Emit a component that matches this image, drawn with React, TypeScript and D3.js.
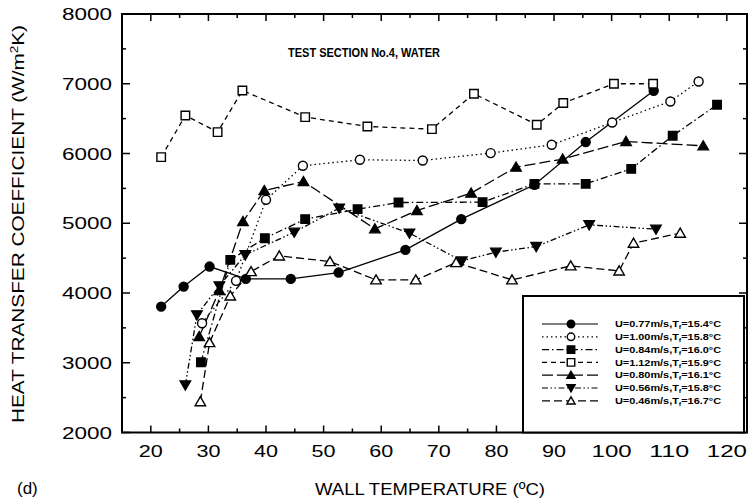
import React from "react";
import * as d3 from "d3";

// ---------- data ----------
const velocities = ["0.77", "1.00", "0.84", "1.12", "0.80", "0.56", "0.46"];
const fluidTemps = ["15.4", "15.8", "16.0", "15.9", "16.1", "15.8", "16.7"];

const s077: [number, number][] = [
  [21.8, 3805], [25.7, 4092], [30.2, 4379], [36.5, 4202], [44.3, 4202], [52.6, 4293],
  [64.2, 4618], [73.9, 5059], [86.6, 5551], [95.5, 6164], [107.3, 6900],
];
const s100: [number, number][] = [
  [28.9, 3567], [34.8, 4174], [40.0, 5336], [46.4, 5824], [56.3, 5910], [67.2, 5900],
  [79.0, 6006], [89.6, 6125], [100.1, 6445], [110.2, 6746], [115.1, 7033],
];
const s084: [number, number][] = [
  [28.7, 3007], [33.8, 4475], [39.8, 4786], [46.8, 5059], [55.9, 5202], [63.0, 5297],
  [77.6, 5303], [86.6, 5565], [95.5, 5565], [103.4, 5780], [110.6, 6254], [118.3, 6699],
];
const s112: [number, number][] = [
  [21.8, 5948], [26.0, 6545], [31.6, 6307], [35.9, 6904], [46.8, 6522], [57.6, 6387],
  [68.8, 6350], [76.1, 6857], [87.0, 6412], [91.6, 6723], [100.4, 7000], [107.2, 7000],
];
const s080: [number, number][] = [
  [28.4, 3375], [31.9, 4034], [36.0, 5024], [39.7, 5469], [46.5, 5598], [58.9, 4920],
  [66.2, 5182], [75.6, 5432], [83.4, 5805], [91.5, 5920], [102.5, 6172], [115.9, 6110],
];
const s056: [number, number][] = [
  [26.0, 2681], [28.0, 3686], [31.9, 4102], [36.4, 4547], [44.9, 4872], [52.7, 5217],
  [64.9, 4858], [74.0, 4460], [79.9, 4585], [86.9, 4666], [96.1, 4977], [107.7, 4915],
];
const s046: [number, number][] = [
  [28.6, 2442], [30.2, 3289], [33.8, 3958], [37.4, 4307], [42.3, 4532], [51.1, 4451],
  [59.1, 4188], [66.0, 4188], [73.0, 4436], [82.7, 4188], [92.9, 4389], [101.3, 4317],
  [103.8, 4714], [111.9, 4858],
];
const allSeries = [s077, s100, s084, s112, s080, s056, s046];

const xTicks = [20, 30, 40, 50, 60, 70, 80, 90, 100, 110, 120];
const yTicks = [2000, 3000, 4000, 5000, 6000, 7000, 8000];

// ---------- styles ----------
type Marker = "circle" | "square" | "triangle" | "triangleDown";
const markers: Marker[] = ["circle", "circle", "square", "square", "triangle", "triangleDown", "triangle"];
const filled = [true, false, true, false, true, true, false];
const dashes = ["", "1.5,3", "7,3,1.5,3", "5,4", "11,4", "6,2.5,1.5,2.5,1.5,2.5", "8,4"];

const W = 753;
const H = 504;
const left = 122, right = 747, top = 14, bottom = 432.5;

function markerPath(m: Marker, s: number): string {
  const h = s / 2;
  if (m === "circle") {
    return d3.arc()({ innerRadius: 0, outerRadius: h, startAngle: 0, endAngle: 2 * Math.PI }) as string;
  }
  if (m === "square") return `M${-h},${-h}H${h}V${h}H${-h}Z`;
  if (m === "triangle") return `M0,${-h * 1.05}L${h * 1.1},${h * 0.85}L${-h * 1.1},${h * 0.85}Z`;
  return `M0,${h * 1.05}L${h * 1.1},${-h * 0.85}L${-h * 1.1},${-h * 0.85}Z`;
}

function MarkerShape({ m, f, x, y, s }: { m: Marker; f: boolean; x: number; y: number; s: number }) {
  return (
    <path
      d={markerPath(m, s)}
      transform={`translate(${x},${y})`}
      fill={f ? "#000" : "#fff"}
      stroke="#000"
      strokeWidth={1.4}
    />
  );
}

export default function App() {
  const x = d3.scaleLinear().domain([15, 123.5]).range([left, right]);
  const y = d3.scaleLinear().domain([2000, 8000]).range([bottom, top]);
  const line = d3.line<[number, number]>().x((d) => x(d[0])).y((d) => y(d[1]));

  const xMinor = d3.range(15, 123, 5);
  const yMinor = d3.range(2000, 8001, 500);

  const legX0 = 523, legY0 = 296, legX1 = 744;
  const legRow0 = 324, legStep = 12.8;

  const font = "'Liberation Sans', Arial, sans-serif";

  return (
    <svg width={W} height={H} style={{ position: "absolute", left: 0, top: 0, background: "#fff" }} fontFamily={font}>
      <rect x={0} y={0} width={W} height={H} fill="#fff" />

      {/* series lines */}
      {allSeries.map((s, i) => (
        <path key={"l" + i} d={line(s) as string} fill="none" stroke="#000" strokeWidth={1.3}
          strokeDasharray={dashes[i] || undefined} />
      ))}
      {/* markers */}
      {allSeries.map((s, i) =>
        s.map((d, j) => (
          <MarkerShape key={`m${i}-${j}`} m={markers[i]} f={filled[i]} x={x(d[0])} y={y(d[1])}
            s={markers[i] === "square" ? 8.5 : markers[i] === "circle" ? 9 : 9.5} />
        ))
      )}

      {/* frame */}
      <rect x={left} y={top} width={right - left} height={bottom - top} fill="none" stroke="#000" strokeWidth={2} />

      {/* x ticks bottom & top */}
      {xMinor.map((v) => {
        const major = v % 10 === 0;
        const len = major ? 7 : 4;
        return (
          <g key={"xt" + v}>
            <line x1={x(v)} x2={x(v)} y1={bottom} y2={bottom - len} stroke="#000" strokeWidth={1.5} />
            <line x1={x(v)} x2={x(v)} y1={top} y2={top + len} stroke="#000" strokeWidth={1.5} />
          </g>
        );
      })}
      {yMinor.map((v) => {
        const major = v % 1000 === 0;
        const len = major ? 8 : 4;
        return (
          <g key={"yt" + v}>
            <line x1={left} x2={left + len} y1={y(v)} y2={y(v)} stroke="#000" strokeWidth={1.5} />
            <line x1={right} x2={right - len} y1={y(v)} y2={y(v)} stroke="#000" strokeWidth={1.5} />
          </g>
        );
      })}

      {/* tick labels */}
      {yTicks.map((v) => (
        <text key={"yl" + v} x={112} y={y(v)} dy="0.36em" textAnchor="end" fontSize={17}
          textLength={50} lengthAdjust="spacingAndGlyphs">
          {v}
        </text>
      ))}
      {xTicks.map((v) => (
        <text key={"xl" + v} x={x(v)} y={457} textAnchor="middle" fontSize={17}
          textLength={v >= 100 ? 40 : 24} lengthAdjust="spacingAndGlyphs">
          {v}
        </text>
      ))}

      {/* axis titles */}
      <text x={430} y={495} textAnchor="middle" fontSize={17} textLength={230} lengthAdjust="spacingAndGlyphs">
        WALL TEMPERATURE (ºC)
      </text>
      <text x={17} y={494} fontSize={17}>(d)</text>
      <text transform="translate(24,224) rotate(-90)" textAnchor="middle" fontSize={17}
        textLength={398} lengthAdjust="spacingAndGlyphs">
        HEAT TRANSFER COEFFICIENT (W/m<tspan dy={-6} fontSize={11}>2</tspan><tspan dy={6}>K)</tspan>
      </text>

      {/* chart title */}
      <text x={288} y={57} fontSize={12} fontWeight="bold" textLength={152} lengthAdjust="spacingAndGlyphs"
        fontFamily="'Liberation Sans Narrow', 'Liberation Sans', Arial, sans-serif">
        TEST SECTION No.4, WATER
      </text>

      {/* legend */}
      <rect x={legX0} y={legY0} width={legX1 - legX0} height={bottom - legY0} fill="#fff" stroke="#000" strokeWidth={2} />
      {velocities.map((u, i) => {
        const ly = legRow0 + i * legStep;
        return (
          <g key={"lg" + i}>
            <line x1={542} x2={598} y1={ly} y2={ly} stroke="#000" strokeWidth={1.2}
              strokeDasharray={dashes[i] || undefined} />
            <MarkerShape m={markers[i]} f={filled[i]} x={571} y={ly} s={7.5} />
            <text x={615} y={ly} dy="0.35em" fontSize={9} fontWeight="bold" textLength={106}
              lengthAdjust="spacingAndGlyphs">
              U={u}m/s,T<tspan dy={2} fontSize={6}>f</tspan><tspan dy={-2}>={fluidTemps[i]}°C</tspan>
            </text>
          </g>
        );
      })}
    </svg>
  );
}
